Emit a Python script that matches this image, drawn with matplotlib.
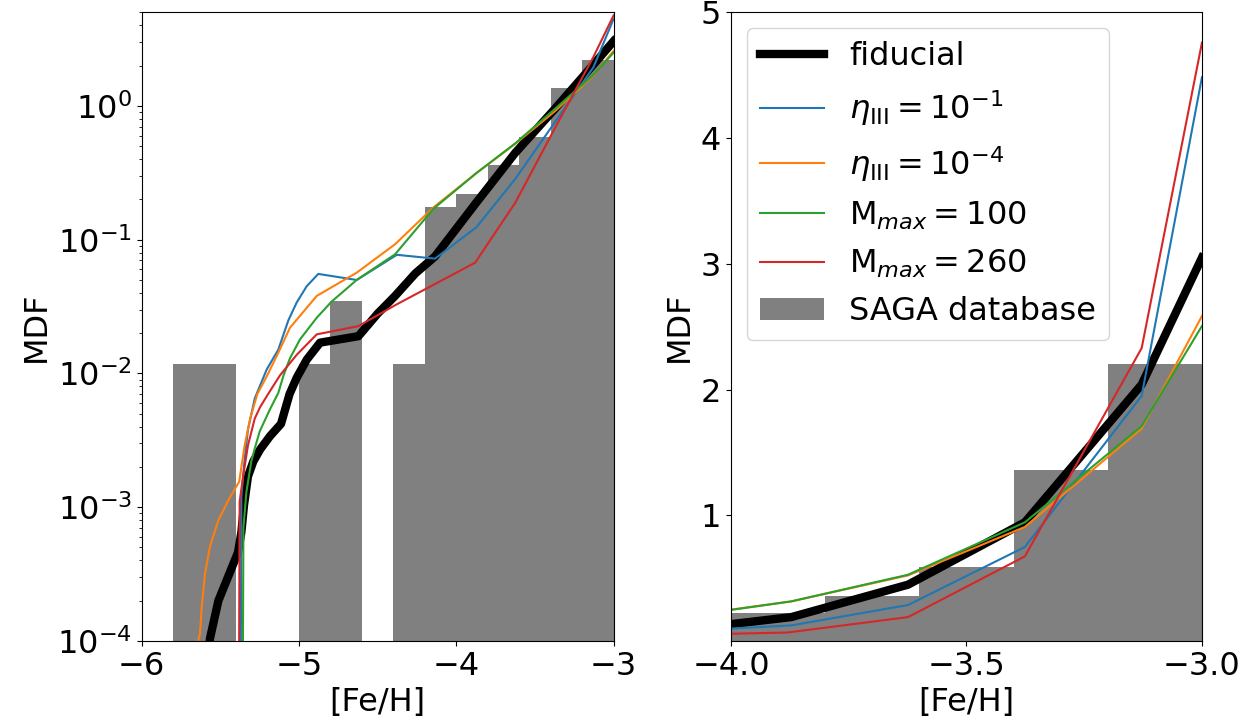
import matplotlib
matplotlib.use("Agg")
import matplotlib.pyplot as plt
import numpy as np

# --- SAGA histogram (bin left edges, width 0.2 dex) ---
saga_edges = [-5.8, -5.6, -5.4, -5.2, -5.0, -4.8, -4.6, -4.4, -4.2, -4.0, -3.8, -3.6, -3.4, -3.2]
saga_mdf = [0.0117, 0.0117, 0.0, 0.0, 0.0117, 0.0346, 0.0, 0.0117, 0.175, 0.22, 0.36, 0.59, 1.36, 2.20]
bin_width = 0.2

# --- model MDFs ---
fid_feh = [-5.575, -5.565, -5.512, -5.459, -5.42, -5.387, -5.366, -5.349, -5.324, -5.29, -5.247,
           -5.184, -5.114, -5.06, -5.014, -4.95, -4.866, -4.622, -4.5, -4.389, -4.26, -4.135,
           -3.872, -3.624, -3.376, -3.128, -3.0]
fid_mdf = [8e-5, 1.05e-4, 2.0e-4, 2.85e-4, 3.7e-4, 4.6e-4, 6.5e-4, 1.04e-3, 1.7e-3, 2.2e-3, 2.7e-3,
           3.4e-3, 4.2e-3, 7.0e-3, 9.3e-3, 0.0127, 0.017, 0.019, 0.028, 0.038, 0.056, 0.075,
           0.19, 0.448, 0.944, 2.04, 3.05]

eta1_feh = [-5.370, -5.366, -5.345, -5.324, -5.281, -5.205, -5.131, -5.067, -5.014, -4.95, -4.877,
            -4.633, -4.378, -4.135, -3.872, -3.624, -3.376, -3.128, -3.0]
eta1_mdf = [5e-5, 1.2e-3, 2.3e-3, 3.8e-3, 6.5e-3, 0.0107, 0.0151, 0.025, 0.034, 0.045, 0.0555,
            0.050, 0.0771, 0.0722, 0.124, 0.286, 0.748, 1.95, 4.485]

eta4_feh = [-5.66, -5.629, -5.618, -5.597, -5.565, -5.512, -5.445, -5.38, -5.345, -5.31, -5.265,
            -5.205, -5.131, -5.057, -4.993, -4.887, -4.633, -4.389, -4.146, -3.872, -3.624, -3.376,
            -3.128, -3.0]
eta4_mdf = [8e-5, 1.14e-4, 1.8e-4, 3.2e-4, 5.1e-4, 8.0e-4, 1.15e-3, 1.55e-3, 2.9e-3, 4.6e-3, 7.0e-3,
            9.5e-3, 0.0143, 0.022, 0.027, 0.038, 0.0567, 0.0925, 0.174, 0.315, 0.522, 0.907,
            1.69, 2.585]

m100_feh = [-5.357, -5.353, -5.334, -5.303, -5.279, -5.249, -5.184, -5.131, -5.099, -5.057, -4.993,
            -4.887, -4.792, -4.633, -4.389, -4.146, -3.872, -3.624, -3.376, -3.128, -3.0]
m100_mdf = [5e-5, 7e-4, 1.3e-3, 2.2e-3, 2.8e-3, 3.7e-3, 5.4e-3, 7.16e-3, 9.6e-3, 0.013, 0.018,
            0.0261, 0.0345, 0.050, 0.0778, 0.17, 0.315, 0.527, 0.944, 1.71, 2.506]

m260_feh = [-5.381, -5.377, -5.355, -5.324, -5.281, -5.247, -5.2, -5.12, -5.014, -4.887, -4.622,
            -4.378, -4.13, -3.88, -3.624, -3.376, -3.128, -3.0]
m260_mdf = [5e-5, 1.1e-3, 1.7e-3, 2.9e-3, 4.6e-3, 5.6e-3, 6.9e-3, 9.7e-3, 0.0138, 0.0196, 0.0226,
            0.0329, 0.047, 0.0674, 0.19, 0.673, 2.33, 4.76]

models = [
    (fid_feh, fid_mdf, 'k', 6, 'fiducial'),
    (eta1_feh, eta1_mdf, 'C0', 1.5, r'$\eta_{\rm III}=10^{-1}$'),
    (eta4_feh, eta4_mdf, 'C1', 1.5, r'$\eta_{\rm III}=10^{-4}$'),
    (m100_feh, m100_mdf, 'C2', 1.5, r'M$_{max}=100$'),
    (m260_feh, m260_mdf, 'C3', 1.5, r'M$_{max}=260$'),
]

plt.rcParams['font.size'] = 23

fig = plt.figure(figsize=(12.51, 7.25), dpi=100)
ax1 = fig.add_axes([0.1132, 0.1159, 0.3773, 0.8669])
ax2 = fig.add_axes([0.5843, 0.1159, 0.3765, 0.8669])

edges = np.array(saga_edges)
heights = np.array(saga_mdf)
keep = heights > 0

for ax in (ax1, ax2):
    ax.bar(edges[keep], heights[keep], width=bin_width, align='edge', color='grey',
           label='SAGA database')
    for feh, mdf, col, lw, lab in models:
        ax.plot(feh, mdf, color=col, lw=lw, label=lab)
    ax.set_ylim(1e-4, 5)
    ax.set_xlabel('[Fe/H]')
    ax.set_ylabel('MDF')

ax1.set_yscale('log')
ax1.set_ylim(1e-4, 5)
ax1.set_xlim(-6, -3)
ax1.set_xticks([-6, -5, -4, -3])

ax2.set_xlim(-4, -3)
ax2.set_xticks([-4.0, -3.5, -3.0])
ax2.set_yticks([1, 2, 3, 4, 5])

ax2.legend(loc='upper left', fontsize=23)

fig.savefig('out.png', dpi=100)
